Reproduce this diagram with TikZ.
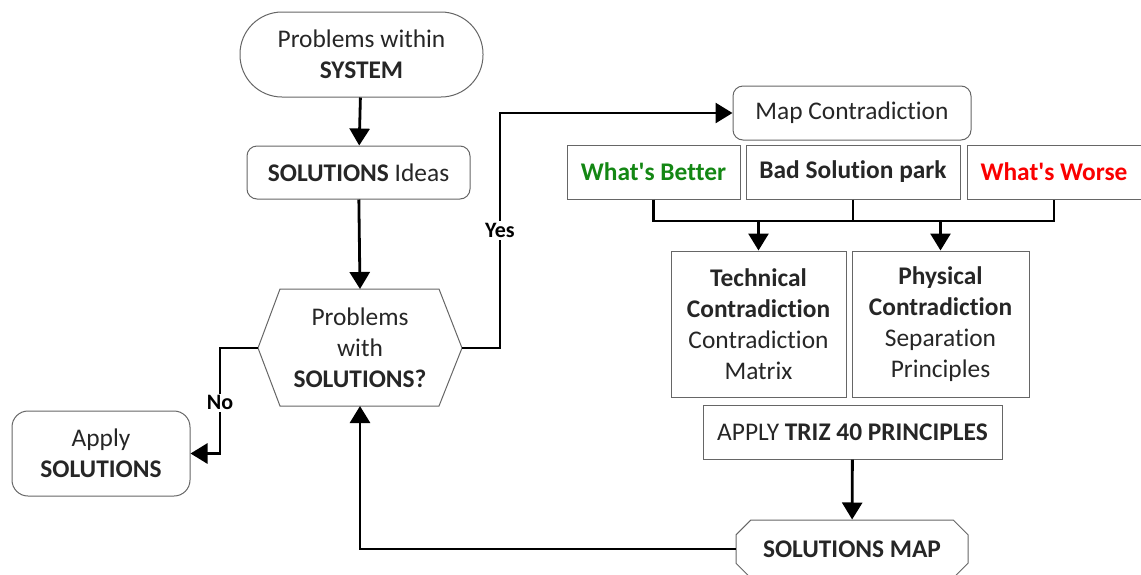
\documentclass[tikz,border=0pt]{standalone}
\usepackage{fontspec}
\setmainfont{Carlito}[Ligatures=NoCommon]
\usetikzlibrary{arrows.meta,shapes.misc,calc}

\definecolor{better}{RGB}{20,135,20}
\definecolor{worse}{RGB}{250,0,0}

\tikzset{
  box/.style={draw=black!60, line width=0.5pt, align=center, inner sep=0pt,
    text=black!85, font=\fontsize{12.7}{15.4}\selectfont},
  roundbox/.style={box, rounded corners=5pt},
  flow/.style={line width=1.4pt, -{Triangle[length=8.5pt,width=10pt]}},
  link/.style={line width=1.4pt},
  lbl/.style={fill=white, inner sep=1pt, font=\fontsize{11}{13}\selectfont\bfseries}
}

\begin{document}
\begin{tikzpicture}[x=0.5pt,y=-0.5pt]
\useasboundingbox (0,0) rectangle (1141,574);

\node[roundbox, rounded corners=21pt, minimum width=121.5pt, minimum height=42.5pt] (sys) at (361.5,54.5) {Problems within\\\textbf{SYSTEM}};
\node[roundbox, minimum width=111.5pt, minimum height=26.5pt] (ideas) at (358.5,172.5) {\textbf{SOLUTIONS} Ideas};

\coordinate (hexT) at (360,289);
\coordinate (hexB) at (360,406);
\coordinate (hexL) at (258,348);
\coordinate (hexR) at (462,348);
\draw[black!60, line width=0.5pt] (hexL) -- (280,289) -- (439,289) -- (hexR) -- (439,406) -- (280,406) -- cycle;
\node[box, draw=none] (hex) at (360,348) {Problems\\with\\\textbf{SOLUTIONS?}};

\node[roundbox, rounded corners=8pt, minimum width=89pt, minimum height=42.5pt] (apply) at (101,453.5) {Apply\\\textbf{SOLUTIONS}};

\node[roundbox, minimum width=119pt, minimum height=27pt] (map) at (852,113) {Map Contradiction};
\node[box, minimum width=86.5pt, minimum height=27pt, text=better] (better) at (653.5,172) {\textbf{What\textquotesingle s Better}};
\node[box, minimum width=107pt, minimum height=27pt] (bad) at (853,172) {\textbf{Bad Solution park}};
\node[box, minimum width=87pt, minimum height=27pt, text=worse] (worse) at (1054,172) {\textbf{What\textquotesingle s Worse}};

\node[box, minimum width=87.5pt, minimum height=73pt] (tech) at (758.5,324) {\textbf{Technical}\\\textbf{Contradiction}\\Contradiction\\Matrix};
\node[box, minimum width=88.5pt, minimum height=73pt] (phys) at (940.5,324) {\textbf{Physical}\\\textbf{Contradiction}\\Separation\\Principles};
\node[box, minimum width=149.5pt, minimum height=27pt] (triz) at (852.5,432) {APPLY \textbf{TRIZ 40 PRINCIPLES}};
\node[box, chamfered rectangle, chamfered rectangle xsep=4.5pt, minimum width=116pt, minimum height=29pt] (smap) at (852,549) {\textbf{SOLUTIONS MAP}};

\draw[flow] (sys) -- (ideas);
\draw[flow] (ideas) -- (hexT);

\coordinate (noturn) at (220,348);
\draw[flow] (hexL) -- (noturn) |- node[lbl, pos=0.26] {No} (apply.east);
\coordinate (yesturn) at (500,348);
\draw[flow] (hexR) -- (yesturn) |- node[lbl, pos=0.25] {Yes} (map.west);

\coordinate (busy) at (0,221);
\draw[link] (better.south) -- (better.south |- busy) -| (worse.south);
\draw[link] (bad.south) -- (bad.south |- busy);
\draw[flow] (busy -| tech.north) -- (tech.north);
\draw[flow] (busy -| phys.north) -- (phys.north);

\draw[flow] (triz) -- (smap);
\draw[flow] (smap.west) -| (hexB);
\end{tikzpicture}
\end{document}
